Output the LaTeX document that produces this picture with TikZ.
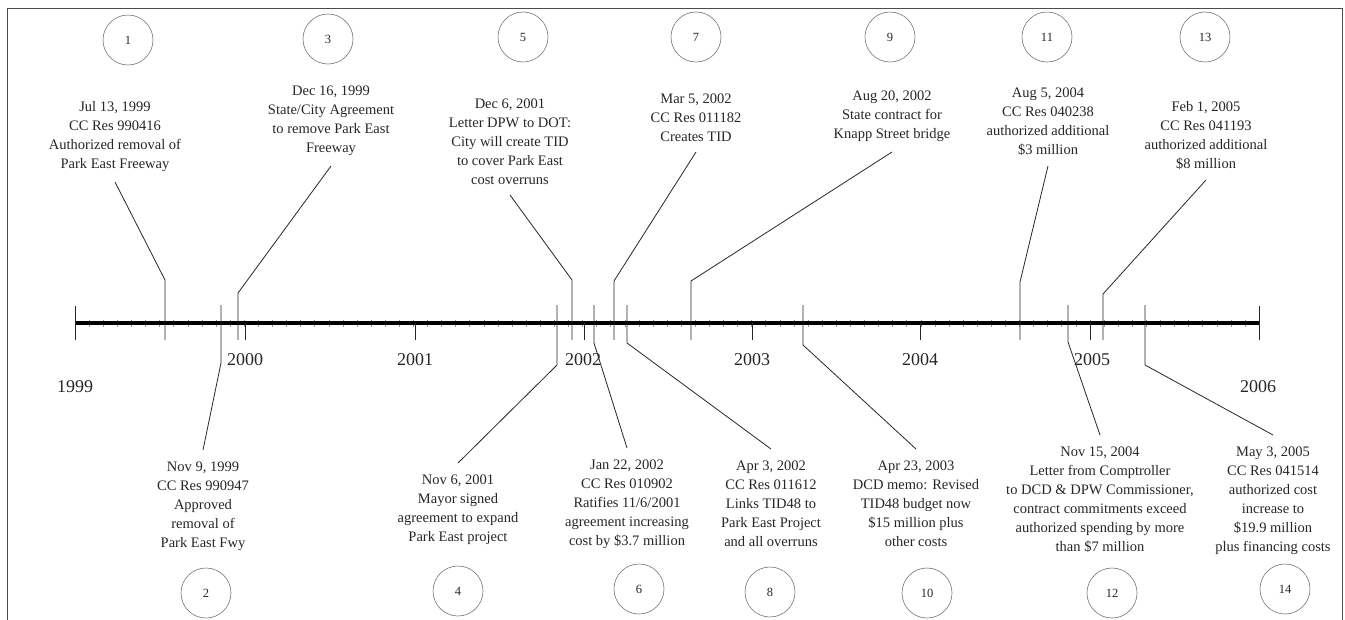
\documentclass[tikz,border=0pt]{standalone}
\usepackage{fontspec}
\setmainfont{Liberation Serif}
\begin{document}
\begin{tikzpicture}[x=1pt,y=-1pt,
  evtext/.style={align=center,font=\fontsize{14.5}{19}\selectfont,text=black!85},
  evup/.style={evtext,anchor=south,inner sep=10pt},
  evdown/.style={evtext,anchor=north,inner sep=12pt},
  num/.style={circle,draw=black!55,line width=0.6pt,minimum size=50pt,inner sep=0pt,font=\fontsize{12.5}{14}\selectfont,text=black!85},
  yearlbl/.style={font=\fontsize{18}{20}\selectfont,text=black!85},
  leader/.style={line width=0.8pt,draw=black!85},
  ticky/.style={line width=0.8pt,draw=black!85},
  minor/.style={line width=0.4pt,draw=black!45},
  axisline/.style={line width=4pt,draw=black},
  frame/.style={line width=1pt,draw=black!70}]
\useasboundingbox (0,0) rectangle (1345,619);
% frame
\coordinate (fa) at (7,625); \coordinate (fb) at (7,8);
\coordinate (fc) at (1342,8); \coordinate (fd) at (1342,625);
\draw[frame] (fa) -- (fb) -- (fc) -- (fd);
% axis
\coordinate (ax0) at (75,323); \coordinate (ax1) at (1259,323);
\foreach \m in {1,...,83} {
  \draw[minor] ({75+169.14*\m/12},320) -- ({75+169.14*\m/12},327);
}
\draw[axisline] (ax0) -- (ax1);
% year ticks
\draw[ticky] (75,306) -- (75,340);
\draw[ticky] (1259,306) -- (1259,340);
\foreach \yx in {245,415,584,752,920,1090} {
  \draw[ticky] (\yx,323) -- (\yx,340);
}
% year labels
\node[yearlbl] (y1999) at (75,387) {1999};
\node[yearlbl] (y2000) at (245,360) {2000};
\node[yearlbl] (y2001) at (415,360) {2001};
\node[yearlbl] (y2002) at (583,360) {2002};
\node[yearlbl] (y2003) at (752,360) {2003};
\node[yearlbl] (y2004) at (920,360) {2004};
\node[yearlbl] (y2005) at (1092,360) {2005};
\node[yearlbl] (y2006) at (1258,387) {2006};
% circles
\node[num] (c1) at (128,40) {1};
\node[num] (c3) at (328,39) {3};
\node[num] (c5) at (523,37) {5};
\node[num] (c7) at (696,37) {7};
\node[num] (c9) at (890,37) {9};
\node[num] (c11) at (1047,37) {11};
\node[num] (c13) at (1205,37) {13};
\node[num] (c2) at (206,593) {2};
\node[num] (c4) at (458,591) {4};
\node[num] (c6) at (639,589) {6};
\node[num] (c8) at (770,592) {8};
\node[num] (c10) at (927,593) {10};
\node[num] (c12) at (1112,593) {12};
\node[num] (c14) at (1285,589) {14};
% upper events
\node[evup] (t1) at (115,182) {Jul 13, 1999\\CC Res 990416\\Authorized removal of\\Park East Freeway};
\coordinate (k1a) at (165,280); \coordinate (k1b) at (165,340);
\draw[leader] (t1.south) -- (k1a) -- (k1b);
\node[evup] (t3) at (331,166) {Dec 16, 1999\\State/City Agreement\\to remove Park East\\Freeway};
\coordinate (k3a) at (238,293); \coordinate (k3b) at (238,340);
\draw[leader] (t3.south) -- (k3a) -- (k3b);
\node[evup] (t5) at (510,195) {Dec 6, 2001\\Letter DPW to DOT:\\City will create TID\\to cover Park East\\cost overruns};
\coordinate (k5a) at (572,280); \coordinate (k5b) at (572,340);
\draw[leader] (t5.south) -- (k5a) -- (k5b);
\node[evup] (t7) at (696,152) {Mar 5, 2002\\CC Res 011182\\Creates TID};
\coordinate (k7a) at (614,281); \coordinate (k7b) at (614,340);
\draw[leader] (t7.south) -- (k7a) -- (k7b);
\node[evup] (t9) at (892,152) {Aug 20, 2002\\State contract for\\Knapp Street bridge};
\coordinate (k9a) at (691,281); \coordinate (k9b) at (691,340);
\draw[leader] (t9.south) -- (k9a) -- (k9b);
\node[evup] (t11) at (1048,166) {Aug 5, 2004\\CC Res 040238\\authorized additional\\\$3 million};
\coordinate (k11a) at (1020,282); \coordinate (k11b) at (1020,340);
\draw[leader] (t11.south) -- (k11a) -- (k11b);
\node[evup] (t13) at (1206,180) {Feb 1, 2005\\CC Res 041193\\authorized additional\\\$8 million};
\coordinate (k13a) at (1103,294); \coordinate (k13b) at (1103,340);
\draw[leader] (t13.south) -- (k13a) -- (k13b);
% lower events
\node[evdown] (t2) at (203,450) {Nov 9, 1999\\CC Res 990947\\Approved\\removal of\\Park East Fwy};
\coordinate (k2a) at (221,305); \coordinate (k2b) at (221,363);
\draw[leader] (k2a) -- (k2b) -- (t2.north);
\node[evdown] (t4) at (458,463) {Nov 6, 2001\\Mayor signed\\agreement to expand\\Park East project};
\coordinate (k4a) at (557,305); \coordinate (k4b) at (557,365);
\draw[leader] (k4a) -- (k4b) -- (t4.north);
\node[evdown] (t6) at (627,448) {Jan 22, 2002\\CC Res 010902\\Ratifies 11/6/2001\\agreement increasing\\cost by \$3.7 million};
\coordinate (k6a) at (594,305); \coordinate (k6b) at (594,343);
\draw[leader] (k6a) -- (k6b) -- (t6.north);
\node[evdown] (t8) at (771,449) {Apr 3, 2002\\CC Res 011612\\Links TID48 to\\Park East Project\\and all overruns};
\coordinate (k8a) at (627,305); \coordinate (k8b) at (627,343);
\draw[leader] (k8a) -- (k8b) -- (t8.north);
\node[evdown] (t10) at (916,449) {Apr 23, 2003\\DCD memo: Revised\\TID48 budget now\\\$15 million plus\\other costs};
\coordinate (k10a) at (803,305); \coordinate (k10b) at (803,345);
\draw[leader] (k10a) -- (k10b) -- (t10.north);
\node[evdown] (t12) at (1100,435) {Nov 15, 2004\\Letter from Comptroller\\to DCD \& DPW Commissioner,\\contract commitments exceed\\authorized spending by more\\than \$7 million};
\coordinate (k12a) at (1068,305); \coordinate (k12b) at (1068,342);
\draw[leader] (k12a) -- (k12b) -- (t12.north);
\node[evdown] (t14) at (1273,435) {May 3, 2005\\CC Res 041514\\authorized cost\\increase to\\\$19.9 million\\plus financing costs};
\coordinate (k14a) at (1145,305); \coordinate (k14b) at (1145,365);
\draw[leader] (k14a) -- (k14b) -- (t14.north);
\end{tikzpicture}
\end{document}
